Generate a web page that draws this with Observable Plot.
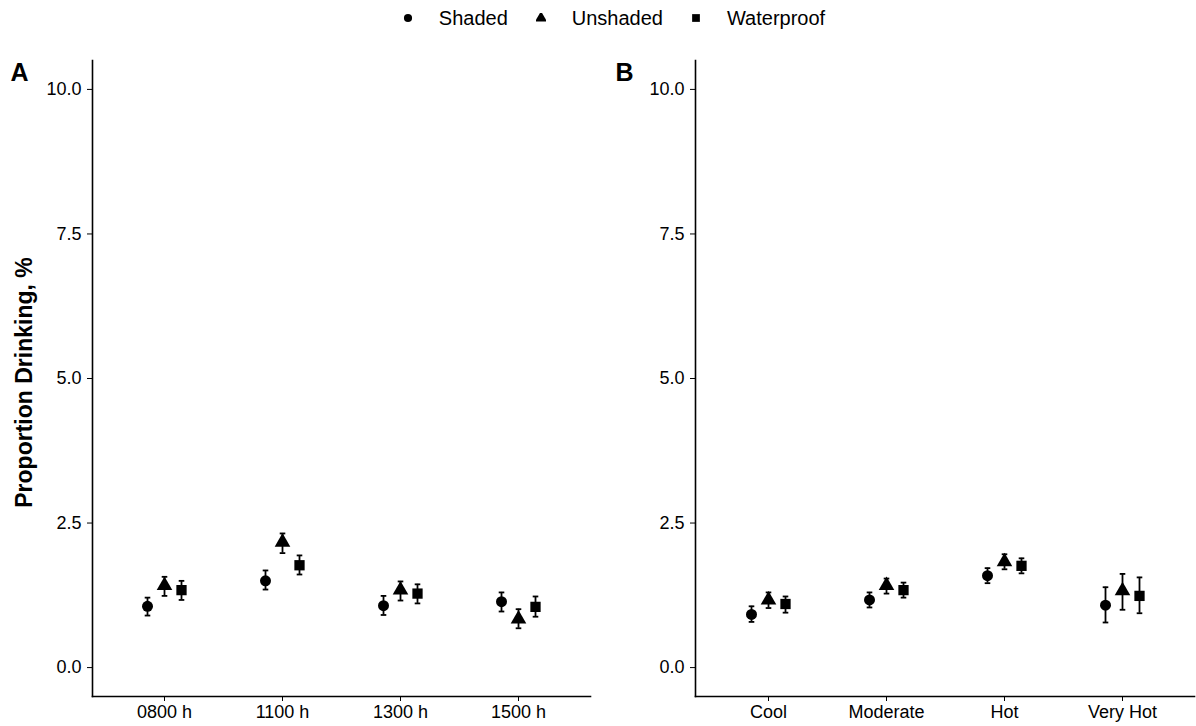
<!DOCTYPE html>
<html>
<head>
<meta charset="utf-8">
<script src="https://cdn.jsdelivr.net/npm/d3@7"></script>
<script src="https://cdn.jsdelivr.net/npm/@observablehq/plot@0.6"></script>
<style>
  body { margin: 0; background: #fff; font-family: "Liberation Sans", Arial, sans-serif; }
  #root { position: relative; width: 1196px; height: 726px; }
  #legend { position: absolute; left: 32px; top: 0; width: 1164px; height: 36px; display: flex; justify-content: center; align-items: center; font-size: 20px; color: #000; }
  .item { display: flex; align-items: center; margin: 0 14px; }
  .item svg { margin-right: 26px; }
  #pa { position: absolute; left: 0; top: 36px; }
  #pb { position: absolute; left: 598px; top: 36px; }
</style>
</head>
<body>
<div id="root">
  <div id="legend"></div>
  <div id="pa"></div>
  <div id="pb"></div>
</div>
<script>
// ---- data ----
const groups = ["Shaded", "Unshaded", "Waterproof"];
const times = ["0800 h", "1100 h", "1300 h", "1500 h"];
const temps = ["Cool", "Moderate", "Hot", "Very Hot"];

// Panel A (time of day): mean, lower, upper
const timeShadedMean = [1.06, 1.50, 1.07, 1.14];
const timeShadedLow  = [0.90, 1.35, 0.91, 0.97];
const timeShadedHigh = [1.21, 1.68, 1.24, 1.30];
const timeUnshadedMean = [1.42, 2.17, 1.34, 0.84];
const timeUnshadedLow  = [1.24, 1.98, 1.16, 0.68];
const timeUnshadedHigh = [1.57, 2.32, 1.49, 1.01];
const timeWaterproofMean = [1.34, 1.77, 1.28, 1.05];
const timeWaterproofLow  = [1.17, 1.61, 1.11, 0.88];
const timeWaterproofHigh = [1.50, 1.94, 1.44, 1.23];

// Panel B (temperature): mean, lower, upper
const tempShadedMean = [0.92, 1.17, 1.59, 1.08];
const tempShadedLow  = [0.79, 1.04, 1.46, 0.78];
const tempShadedHigh = [1.06, 1.30, 1.72, 1.39];
const tempUnshadedMean = [1.17, 1.42, 1.83, 1.33];
const tempUnshadedLow  = [1.03, 1.28, 1.70, 1.00];
const tempUnshadedHigh = [1.30, 1.54, 1.96, 1.62];
const tempWaterproofMean = [1.10, 1.34, 1.76, 1.24];
const tempWaterproofLow  = [0.95, 1.21, 1.63, 0.94];
const tempWaterproofHigh = [1.23, 1.47, 1.89, 1.56];

const yTicks = [0, 2.5, 5, 7.5, 10];

// ---- build tables ----
function rows(cats, series) {
  const out = [];
  series.forEach(([g, m, lo, hi]) => cats.forEach((c, i) => out.push({cat: c, group: g, mean: m[i], lo: lo[i], hi: hi[i]})));
  return out;
}
const dataA = rows(times, [
  ["Shaded", timeShadedMean, timeShadedLow, timeShadedHigh],
  ["Unshaded", timeUnshadedMean, timeUnshadedLow, timeUnshadedHigh],
  ["Waterproof", timeWaterproofMean, timeWaterproofLow, timeWaterproofHigh]
]);
const dataB = rows(temps, [
  ["Shaded", tempShadedMean, tempShadedLow, tempShadedHigh],
  ["Unshaded", tempUnshadedMean, tempUnshadedLow, tempUnshadedHigh],
  ["Waterproof", tempWaterproofMean, tempWaterproofLow, tempWaterproofHigh]
]);

const symbols = {Shaded: "circle", Unshaded: "triangle", Waterproof: "square"};
const sizes = {Shaded: 5.5, Unshaded: 5.8, Waterproof: 5.8};
const offsets = {Shaded: -17, Unshaded: 0, Waterproof: 17};
const cap = {draw(ctx) { ctx.moveTo(-2.8, 0); ctx.lineTo(2.8, 0); }};

function panel(data, cats, letter, opts) {
  const marks = [
    Plot.frame({anchor: "left", stroke: "#000", strokeWidth: 1.6}),
    Plot.frame({anchor: "bottom", stroke: "#000", strokeWidth: 1.6}),
    Plot.axisY({ticks: yTicks, tickFormat: d3.format(".1f"), tickSize: 5, tickPadding: 6, fontSize: 18, label: null, stroke: "#000", color: "#000"}),
    Plot.axisX({tickSize: 5, tickPadding: 4, fontSize: 18, label: null, stroke: "#000", color: "#000"}),
    Plot.text([letter], {frameAnchor: "top-left", dx: opts.letterDx, dy: 12, lineAnchor: "middle", textAnchor: "middle", fontSize: 25, fontWeight: "bold", fill: "#000"})
  ];
  if (opts.ylabel) {
    marks.push(Plot.text([opts.ylabel], {frameAnchor: "left", rotate: -90, dx: -68, dy: 4, textAnchor: "middle", lineAnchor: "middle", fontSize: 23, fontWeight: "bold", fill: "#000"}));
  }
  for (const g of groups) {
    const d = data.filter(r => r.group === g);
    marks.push(
      Plot.ruleX(d, {x: "cat", y1: "lo", y2: "hi", dx: offsets[g], stroke: "#000", strokeWidth: 1.8}),
      Plot.dot(d, {x: "cat", y: "lo", dx: offsets[g], symbol: cap, stroke: "#000", strokeWidth: 1.8}),
      Plot.dot(d, {x: "cat", y: "hi", dx: offsets[g], symbol: cap, stroke: "#000", strokeWidth: 1.8}),
      Plot.dot(d, {x: "cat", y: "mean", dx: offsets[g], symbol: symbols[g], r: sizes[g], fill: "#000", stroke: "none"})
    );
  }
  return Plot.plot({
    width: 598,
    height: 690,
    marginLeft: opts.marginLeft,
    marginRight: opts.marginRight,
    marginTop: 24,
    marginBottom: 30,
    style: {fontFamily: "Liberation Sans, Arial, sans-serif", background: "#fff", color: "#000"},
    x: {type: "point", domain: cats, padding: 0.6},
    y: {domain: [-0.5, 10.5]},
    marks
  });
}

document.getElementById("pa").append(panel(dataA, times, "A", {marginLeft: 92, marginRight: 8, letterDx: -73, ylabel: "Proportion Drinking, %"}));
document.getElementById("pb").append(panel(dataB, temps, "B", {marginLeft: 97, marginRight: 2, letterDx: -71}));

// ---- legend ----
const legend = d3.select("#legend");
const legendSizes = {Shaded: 52, Unshaded: 60, Waterproof: 60};
for (const g of groups) {
  const item = legend.append("div").attr("class", "item");
  const svg = item.append("svg").attr("width", 10).attr("height", 10);
  const sym = {Shaded: d3.symbolCircle, Unshaded: d3.symbolTriangle, Waterproof: d3.symbolSquare}[g];
  svg.append("path").attr("transform", "translate(5,5)").attr("d", d3.symbol(sym, legendSizes[g])()).attr("fill", "#000");
  item.append("span").text(g);
}
</script>
</body>
</html>
